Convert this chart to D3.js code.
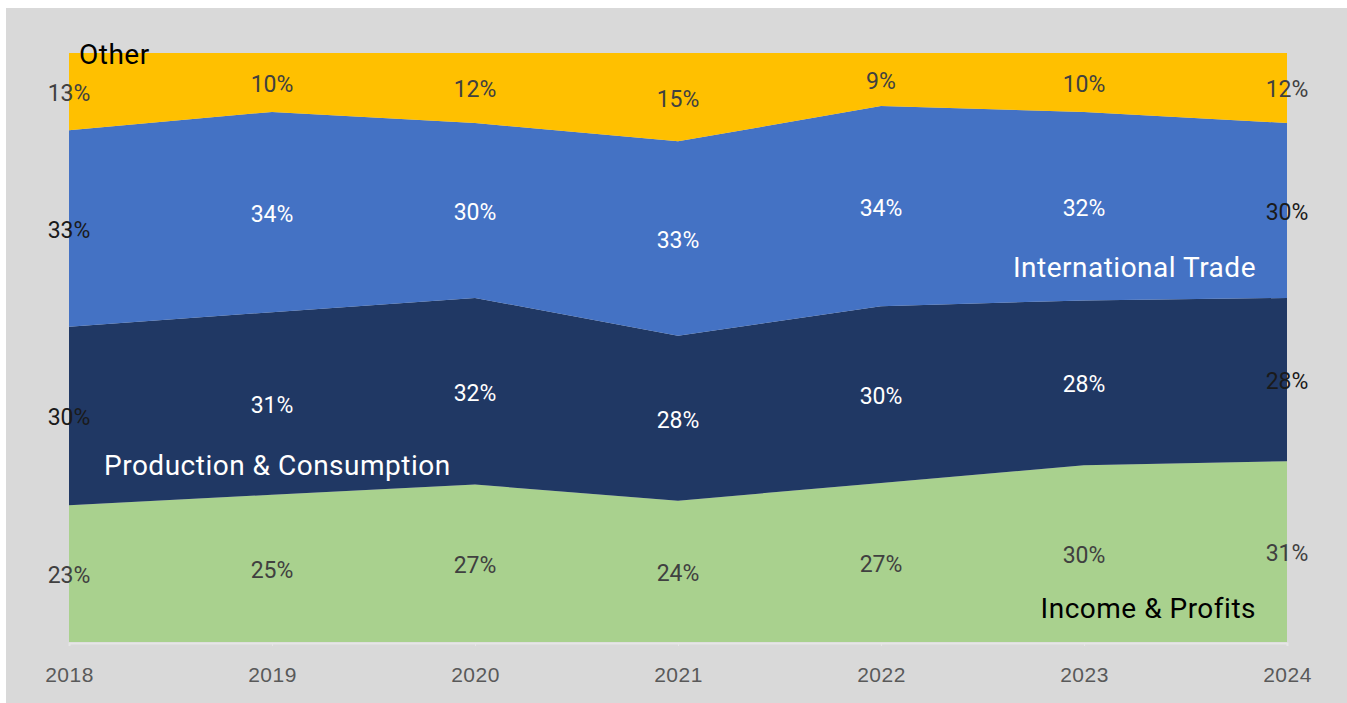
<!DOCTYPE html>
<html>
<head>
<meta charset="utf-8">
<script src="https://cdn.jsdelivr.net/npm/d3@7"></script>
<style>
  body { margin: 0; background: #fff; }
  svg { display: block; font-family: Roboto, "DejaVu Sans", sans-serif; }
</style>
</head>
<body>
<svg id="chart" width="1347" height="703"></svg>
<script>
// shares per year, in percent (as labelled on the chart)
const years = ["2018", "2019", "2020", "2021", "2022", "2023", "2024"];
const income = [23, 25, 27, 24, 27, 30, 31];
const production = [30, 31, 32, 28, 30, 28, 28];
const trade = [33, 34, 30, 33, 34, 32, 30];
const other = [13, 10, 12, 15, 9, 10, 12];

const seriesNames = ["Income & Profits", "Production & Consumption", "International Trade", "Other"];
const seriesKeys = ["income", "production", "trade", "other"];
const colors = ["#a9d18e", "#203864", "#4472c4", "#ffc000"];
// label colour inside the area, and at the two outer edges
const innerLabel = ["#404040", "#ffffff", "#ffffff", "#404040"];
const edgeLabel = ["#404040", "#1a1a1a", "#1a1a1a", "#404040"];

var rows = years.map(function (y, i) {
    return { year: y, income: income[i], production: production[i], trade: trade[i], other: other[i] };
});

var svg = d3.select("#chart");
var W = 1347, H = 703;
var plotLeft = 69, plotRight = 1287, plotTop = 53, plotBottom = 642;

svg.append("rect")
    .attr("x", 6).attr("y", 8)
    .attr("width", W - 6).attr("height", H - 8)
    .attr("fill", "#d9d9d9");

var x = d3.scalePoint().domain(years).range([plotLeft, plotRight]);
var y = d3.scaleLinear().domain([0, 1]).range([plotBottom, plotTop]);

var stack = d3.stack().keys(seriesKeys).offset(d3.stackOffsetExpand);
var layers = stack(rows);

var area = d3.area()
    .x(function (d) { return x(d.data.year); })
    .y0(function (d) { return y(d[0]); })
    .y1(function (d) { return y(d[1]); });

svg.append("g")
    .selectAll("path")
    .data(layers)
    .enter()
    .append("path")
    .attr("fill", function (d, i) { return colors[i]; })
    .attr("d", area);

// x axis
var axis = svg.append("g")
    .attr("transform", "translate(0," + (plotBottom + 1) + ")")
    .call(d3.axisBottom(x).tickSize(3));
axis.select(".domain").attr("stroke", "#e6e6e6").attr("stroke-width", 2);
axis.selectAll(".tick line").attr("stroke", "#e6e6e6");
axis.selectAll(".tick text")
    .attr("y", 32)
    .attr("dy", "0.35em")
    .attr("fill", "#595959")
    .style("font-size", "21px")
    .style("letter-spacing", "0.5px");

// value labels
layers.forEach(function (layer, li) {
    svg.append("g")
        .selectAll("text")
        .data(layer)
        .enter()
        .append("text")
        .attr("x", function (d) { return x(d.data.year); })
        .attr("y", function (d) { return y((d[0] + d[1]) / 2) + 2; })
        .attr("text-anchor", "middle")
        .attr("dominant-baseline", "central")
        .attr("fill", function (d, i) {
            return (i == 0 || i == years.length - 1) ? edgeLabel[li] : innerLabel[li];
        })
        .style("font-size", "23px")
        .text(function (d) { return d.data[layer.key] + "%"; });
});

// series names
var names = [
    { text: seriesNames[3], x: 79, y: 64, anchor: "start", fill: "#000000" },
    { text: seriesNames[2], x: 1256, y: 277, anchor: "end", fill: "#ffffff" },
    { text: seriesNames[1], x: 104, y: 475, anchor: "start", fill: "#ffffff" },
    { text: seriesNames[0], x: 1256, y: 618, anchor: "end", fill: "#000000" }
];
svg.append("g")
    .selectAll("text")
    .data(names)
    .enter()
    .append("text")
    .attr("x", function (d) { return d.x; })
    .attr("y", function (d) { return d.y; })
    .attr("text-anchor", function (d) { return d.anchor; })
    .attr("fill", function (d) { return d.fill; })
    .style("font-size", "28px")
    .style("letter-spacing", "0.5px")
    .text(function (d) { return d.text; });
</script>
</body>
</html>
